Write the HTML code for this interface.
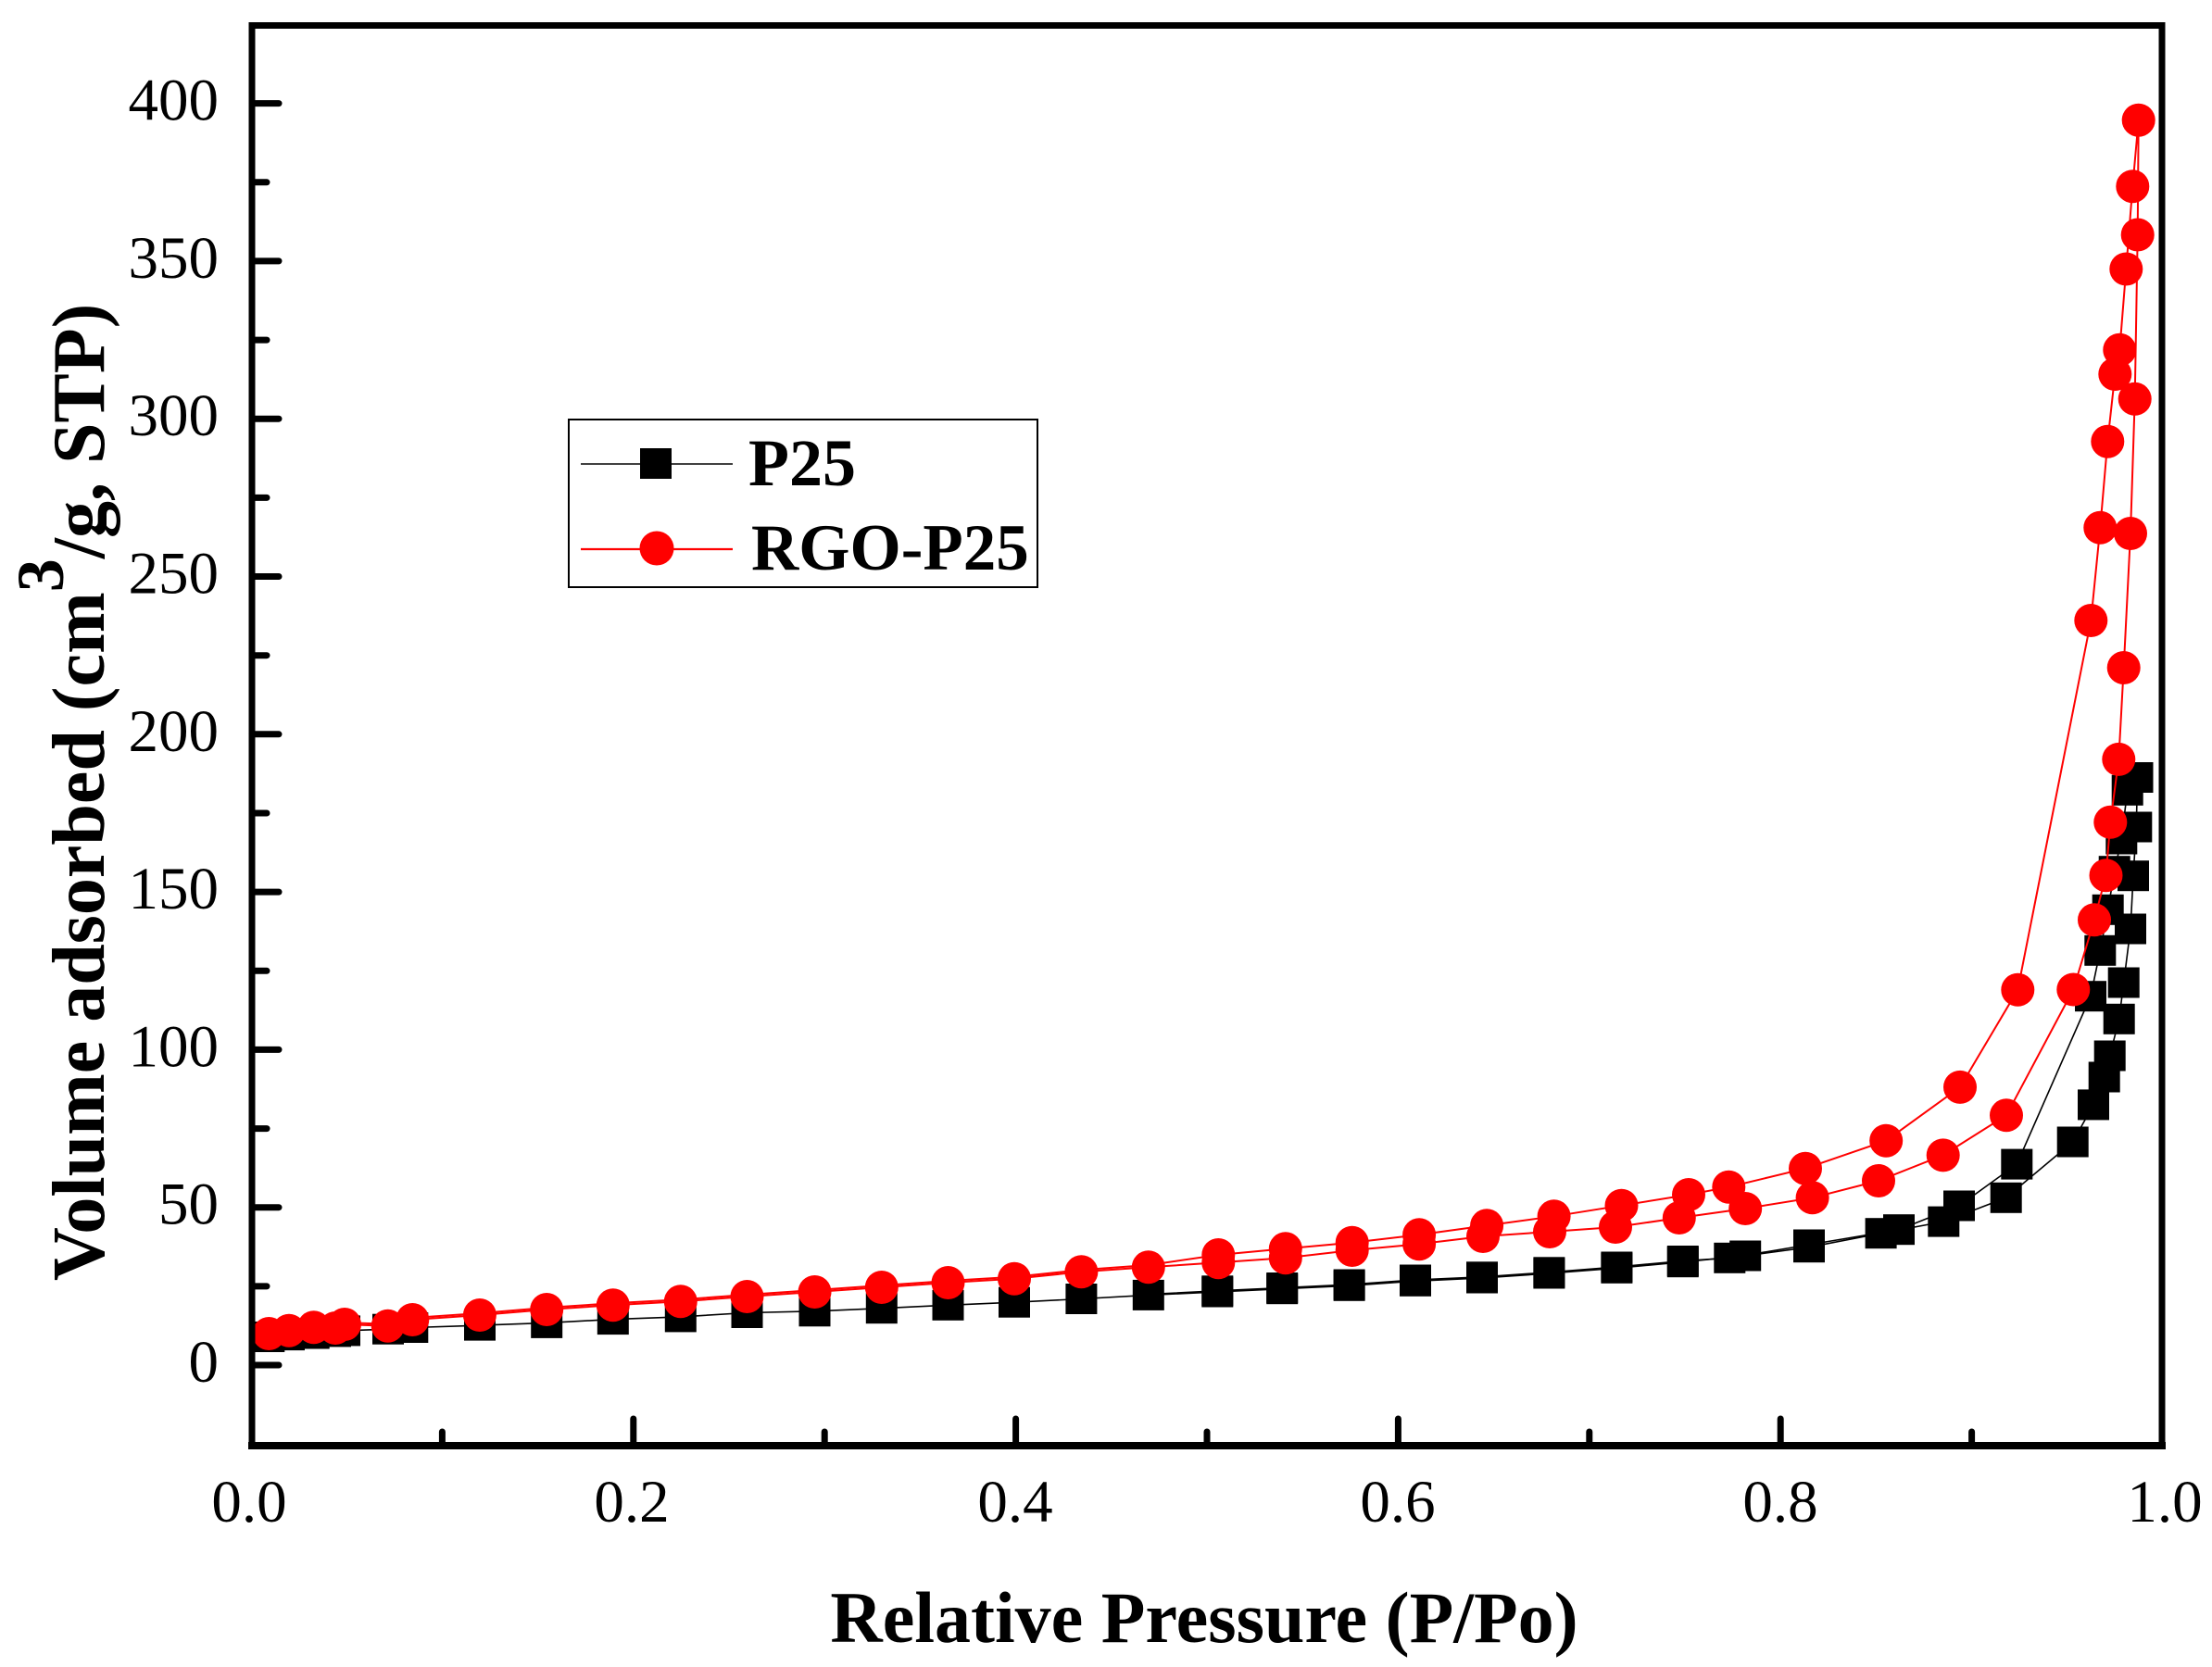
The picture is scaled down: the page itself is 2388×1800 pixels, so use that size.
<!DOCTYPE html>
<html><head><meta charset="utf-8"><style>
html,body{margin:0;padding:0;background:#fff;}
svg{display:block;}
</style></head><body>
<svg width="2388" height="1800" viewBox="0 0 2388 1800" xmlns="http://www.w3.org/2000/svg">
<rect x="0" y="0" width="2388" height="1800" fill="#fff"/>
<defs>
<rect id="sq" x="-17" y="-16.5" width="34" height="33" fill="#000"/>
<circle id="ci" cx="0" cy="0" r="18" fill="#ff0000"/>
</defs>

<!-- P25 series -->
<g fill="none" stroke="#000" stroke-width="1.6">
<polyline points="290.3,1443.5 312,1441.6 338.7,1440 362,1437.9 372,1436.9 419,1435.2 445.3,1433.5 518,1431.1 590.2,1428.4 661.8,1424.6 734.8,1421.9 806.5,1417.5 879.5,1415.8 951.8,1412.7 1023.5,1409.3 1095,1406.2 1167.4,1402.5 1239.8,1398.4 1314.3,1395 1384.2,1391.7 1456.6,1388.3 1528,1383.3 1600,1380 1672.4,1375 1745.4,1369.3 1816.8,1362.7 1884.2,1356 1953,1346.7 2030.6,1331.7 2098.3,1319.1 2165.7,1293.3 2237.7,1233 2260,1192.9 2271.7,1163 2277.7,1140 2287.7,1100.3 2292.7,1061 2300,1003 2303,945.7 2306.3,893 2307.5,839.5"/>
<polyline points="2307.5,839.5 2296.7,853.3 2290.3,906 2282.7,940.7 2275.7,982.3 2267.3,1026.3 2257,1075.7 2177.3,1257.1 2115,1302 2050,1327.7 1953,1344 1867.3,1358.3 1816.8,1361.5 1745.4,1368 1672.4,1373.8 1600,1378.8 1528,1382 1456.6,1387 1384.2,1390.5 1314.3,1393.8 1239.8,1397.6"/>
</g>
<g>
<use href="#sq" x="290.3" y="1443.5"/><use href="#sq" x="312" y="1441.6"/><use href="#sq" x="338.7" y="1440"/><use href="#sq" x="362" y="1437.9"/><use href="#sq" x="372" y="1436.9"/><use href="#sq" x="419" y="1435.2"/><use href="#sq" x="445.3" y="1433.5"/><use href="#sq" x="518" y="1431.1"/><use href="#sq" x="590.2" y="1428.4"/><use href="#sq" x="661.8" y="1424.6"/><use href="#sq" x="734.8" y="1421.9"/><use href="#sq" x="806.5" y="1417.5"/><use href="#sq" x="879.5" y="1415.8"/><use href="#sq" x="951.8" y="1412.7"/><use href="#sq" x="1023.5" y="1409.3"/><use href="#sq" x="1095" y="1406.2"/><use href="#sq" x="1167.4" y="1402.5"/><use href="#sq" x="1239.8" y="1398.4"/><use href="#sq" x="1314.3" y="1395"/><use href="#sq" x="1384.2" y="1391.7"/><use href="#sq" x="1456.6" y="1388.3"/><use href="#sq" x="1528" y="1383.3"/><use href="#sq" x="1600" y="1380"/><use href="#sq" x="1672.4" y="1375"/><use href="#sq" x="1745.4" y="1369.3"/><use href="#sq" x="1816.8" y="1362.7"/><use href="#sq" x="1884.2" y="1356"/><use href="#sq" x="1953" y="1346.7"/><use href="#sq" x="2030.6" y="1331.7"/><use href="#sq" x="2098.3" y="1319.1"/><use href="#sq" x="2165.7" y="1293.3"/><use href="#sq" x="2237.7" y="1233"/><use href="#sq" x="2260" y="1192.9"/><use href="#sq" x="2271.7" y="1163"/><use href="#sq" x="2277.7" y="1140"/><use href="#sq" x="2287.7" y="1100.3"/><use href="#sq" x="2292.7" y="1061"/><use href="#sq" x="2300" y="1003"/><use href="#sq" x="2303" y="945.7"/><use href="#sq" x="2306.3" y="893"/><use href="#sq" x="2307.5" y="839.5"/>
<use href="#sq" x="2296.7" y="853.3"/><use href="#sq" x="2290.3" y="906"/><use href="#sq" x="2282.7" y="940.7"/><use href="#sq" x="2275.7" y="982.3"/><use href="#sq" x="2267.3" y="1026.3"/><use href="#sq" x="2257" y="1075.7"/><use href="#sq" x="2177.3" y="1257.1"/><use href="#sq" x="2115" y="1302"/><use href="#sq" x="2050" y="1327.7"/><use href="#sq" x="1953" y="1344"/><use href="#sq" x="1867.3" y="1358.3"/><use href="#sq" x="1816.8" y="1361.5"/><use href="#sq" x="1745.4" y="1368"/><use href="#sq" x="1672.4" y="1373.8"/><use href="#sq" x="1600" y="1378.8"/><use href="#sq" x="1528" y="1382"/><use href="#sq" x="1456.6" y="1387"/><use href="#sq" x="1384.2" y="1390.5"/><use href="#sq" x="1314.3" y="1393.8"/>
</g>

<!-- RGO-P25 series -->
<g fill="none" stroke="#ff0000" stroke-width="2">
<polyline points="290.3,1440 312,1436.7 338.7,1433.3 362,1434 372,1430 418.7,1431.7 445.3,1425 517.9,1420 590.2,1414 661.8,1409.3 734.8,1405.3 806.5,1400 879.5,1395 951.8,1390 1023.5,1385 1095,1380.7 1167.4,1373.3 1239.8,1368.3 1315.3,1363.3 1387.8,1358.3 1459.7,1350 1532.1,1343.3 1601,1335 1673,1330 1744,1325 1812.8,1315 1884.2,1305 1956.6,1293.3 2028,1275 2097.7,1247.4 2166,1204.3 2238.3,1068.5 2261,993.3 2273.5,945.2 2278.3,887.8 2287.3,819.9 2292.7,721 2300,576 2304.7,430.8 2307.7,253.5 2308.7,129.7"/>
<polyline points="2308.7,129.7 2302.3,201.2 2295.3,290.5 2288.3,377.8 2283.3,404 2275.3,476.7 2267.3,569.8 2257.3,670 2178.3,1068.8 2116,1173.9 2036.2,1231.7 1949,1261.7 1866.3,1281.7 1823,1290 1750.5,1301.7 1677.6,1313.3 1605.1,1323.3 1532.1,1333.3 1459.7,1341.7 1387.8,1348.3 1315.3,1355 1239.8,1366 1167.4,1371.3 1095,1378.7 1023.5,1383 951.8,1388 879.5,1393 806.5,1398 734.8,1403.3 661.8,1407.3 590.2,1412 517.9,1418 445.3,1423 418.7,1429.7 372,1428 338.7,1431.3 312,1434.7 290.3,1438"/>
</g>
<g>
<use href="#ci" x="290.3" y="1440"/><use href="#ci" x="312" y="1436.7"/><use href="#ci" x="338.7" y="1433.3"/><use href="#ci" x="362" y="1434"/><use href="#ci" x="372" y="1430"/><use href="#ci" x="418.7" y="1431.7"/><use href="#ci" x="445.3" y="1425"/><use href="#ci" x="517.9" y="1420"/><use href="#ci" x="590.2" y="1414"/><use href="#ci" x="661.8" y="1409.3"/><use href="#ci" x="734.8" y="1405.3"/><use href="#ci" x="806.5" y="1400"/><use href="#ci" x="879.5" y="1395"/><use href="#ci" x="951.8" y="1390"/><use href="#ci" x="1023.5" y="1385"/><use href="#ci" x="1095" y="1380.7"/><use href="#ci" x="1167.4" y="1373.3"/><use href="#ci" x="1239.8" y="1368.3"/><use href="#ci" x="1315.3" y="1363.3"/><use href="#ci" x="1387.8" y="1358.3"/><use href="#ci" x="1459.7" y="1350"/><use href="#ci" x="1532.1" y="1343.3"/><use href="#ci" x="1601" y="1335"/><use href="#ci" x="1673" y="1330"/><use href="#ci" x="1744" y="1325"/><use href="#ci" x="1812.8" y="1315"/><use href="#ci" x="1884.2" y="1305"/><use href="#ci" x="1956.6" y="1293.3"/><use href="#ci" x="2028" y="1275"/><use href="#ci" x="2097.7" y="1247.4"/><use href="#ci" x="2166" y="1204.3"/><use href="#ci" x="2238.3" y="1068.5"/><use href="#ci" x="2261" y="993.3"/><use href="#ci" x="2273.5" y="945.2"/><use href="#ci" x="2278.3" y="887.8"/><use href="#ci" x="2287.3" y="819.9"/><use href="#ci" x="2292.7" y="721"/><use href="#ci" x="2300" y="576"/><use href="#ci" x="2304.7" y="430.8"/><use href="#ci" x="2307.7" y="253.5"/><use href="#ci" x="2308.7" y="129.7"/>
<use href="#ci" x="2302.3" y="201.2"/><use href="#ci" x="2295.3" y="290.5"/><use href="#ci" x="2288.3" y="377.8"/><use href="#ci" x="2283.3" y="404"/><use href="#ci" x="2275.3" y="476.7"/><use href="#ci" x="2267.3" y="569.8"/><use href="#ci" x="2257.3" y="670"/><use href="#ci" x="2178.3" y="1068.8"/><use href="#ci" x="2116" y="1173.9"/><use href="#ci" x="2036.2" y="1231.7"/><use href="#ci" x="1949" y="1261.7"/><use href="#ci" x="1866.3" y="1281.7"/><use href="#ci" x="1823" y="1290"/><use href="#ci" x="1750.5" y="1301.7"/><use href="#ci" x="1677.6" y="1313.3"/><use href="#ci" x="1605.1" y="1323.3"/><use href="#ci" x="1532.1" y="1333.3"/><use href="#ci" x="1459.7" y="1341.7"/><use href="#ci" x="1387.8" y="1348.3"/><use href="#ci" x="1315.3" y="1355"/>
</g>

<!-- Axes frame -->
<g stroke="#000" fill="none" stroke-linecap="square">
<line x1="272" y1="27.5" x2="272" y2="1561" stroke-width="7"/>
<line x1="272" y1="27.5" x2="2334" y2="27.5" stroke-width="7"/>
<line x1="2334" y1="27.5" x2="2334" y2="1561" stroke-width="7"/>
<line x1="272" y1="1561" x2="2334" y2="1561" stroke-width="8"/>
</g>

<!-- Y ticks -->
<g stroke="#000" stroke-width="7" stroke-linecap="round">
<line x1="272" y1="1474" x2="301" y2="1474"/>
<line x1="272" y1="1303.7" x2="301" y2="1303.7"/>
<line x1="272" y1="1133.4" x2="301" y2="1133.4"/>
<line x1="272" y1="963.1" x2="301" y2="963.1"/>
<line x1="272" y1="792.8" x2="301" y2="792.8"/>
<line x1="272" y1="622.5" x2="301" y2="622.5"/>
<line x1="272" y1="452.2" x2="301" y2="452.2"/>
<line x1="272" y1="281.9" x2="301" y2="281.9"/>
<line x1="272" y1="111.6" x2="301" y2="111.6"/>
<line x1="272" y1="1388.9" x2="288" y2="1388.9"/>
<line x1="272" y1="1218.6" x2="288" y2="1218.6"/>
<line x1="272" y1="1048.3" x2="288" y2="1048.3"/>
<line x1="272" y1="878" x2="288" y2="878"/>
<line x1="272" y1="707.7" x2="288" y2="707.7"/>
<line x1="272" y1="537.4" x2="288" y2="537.4"/>
<line x1="272" y1="367.1" x2="288" y2="367.1"/>
<line x1="272" y1="196.8" x2="288" y2="196.8"/>
</g>

<!-- X ticks -->
<g stroke="#000" stroke-width="7" stroke-linecap="round">
<line x1="683.8" y1="1561" x2="683.8" y2="1532"/>
<line x1="1096.6" y1="1561" x2="1096.6" y2="1532"/>
<line x1="1509.4" y1="1561" x2="1509.4" y2="1532"/>
<line x1="1922.2" y1="1561" x2="1922.2" y2="1532"/>
<line x1="477.4" y1="1561" x2="477.4" y2="1546"/>
<line x1="890.2" y1="1561" x2="890.2" y2="1546"/>
<line x1="1303" y1="1561" x2="1303" y2="1546"/>
<line x1="1715.8" y1="1561" x2="1715.8" y2="1546"/>
<line x1="2128.6" y1="1561" x2="2128.6" y2="1546"/>
</g>

<!-- Tick labels -->
<g font-family="'Liberation Serif', 'Times New Roman', serif" font-size="65" fill="#000" text-anchor="end">
<text x="236" y="1492">0</text>
<text x="236" y="1321.7">50</text>
<text x="236" y="1151.4">100</text>
<text x="236" y="981.1">150</text>
<text x="236" y="810.8">200</text>
<text x="236" y="640.5">250</text>
<text x="236" y="470.2">300</text>
<text x="236" y="299.9">350</text>
<text x="236" y="129.6">400</text>
</g>
<g font-family="'Liberation Serif', 'Times New Roman', serif" font-size="65" fill="#000" text-anchor="middle">
<text x="269" y="1643">0.0</text>
<text x="682" y="1643">0.2</text>
<text x="1096" y="1643">0.4</text>
<text x="1509" y="1643">0.6</text>
<text x="1922" y="1643">0.8</text>
<text x="2337" y="1643">1.0</text>
</g>

<!-- Axis titles -->
<text x="1300" y="1773" font-family="'Liberation Serif', 'Times New Roman', serif" font-size="78" font-weight="bold" text-anchor="middle" fill="#000">Relative Pressure (P/Po)</text>
<text transform="translate(112,1383) rotate(-90)" x="0" y="0" font-family="'Liberation Serif', 'Times New Roman', serif" font-size="80" font-weight="bold" fill="#000">Volume adsorbed (cm<tspan font-size="72" dy="-44">3</tspan><tspan dy="44">/g, STP)</tspan></text>

<!-- Legend -->
<rect x="614" y="453" width="506" height="181" fill="#fff" stroke="#000" stroke-width="2"/>
<line x1="627" y1="501" x2="791" y2="501" stroke="#000" stroke-width="1.6"/>
<rect x="691" y="484" width="34" height="33" fill="#000"/>
<line x1="627" y1="593" x2="791" y2="593" stroke="#ff0000" stroke-width="2.2"/>
<circle cx="709" cy="592" r="18.5" fill="#ff0000"/>
<text x="808" y="524" font-family="'Liberation Serif', 'Times New Roman', serif" font-size="72" font-weight="bold" fill="#000">P25</text>
<text x="811" y="615" font-family="'Liberation Serif', 'Times New Roman', serif" font-size="71" font-weight="bold" fill="#000">RGO-P25</text>
</svg>
</body></html>
